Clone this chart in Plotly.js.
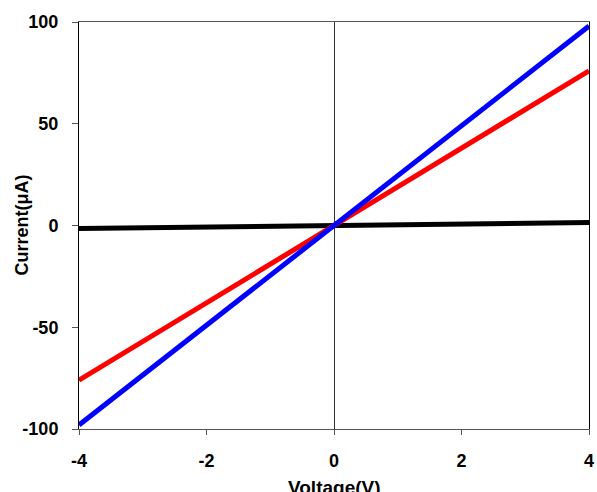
<!DOCTYPE html>
<html><head><meta charset="utf-8">
<script src="https://cdn.plot.ly/plotly-3.0.1.min.js"></script>
<style>html,body{margin:0;padding:0;background:#fff}#c{width:597px;height:492px}</style>
</head><body><div id="c"></div>
<script>
const voltage = [-4, -2, 0, 2, 4];
const currentBlack = [-1.5, -0.75, 0, 0.75, 1.5];
const currentRed = [-76, -38, 0, 38, 76];
const currentBlue = [-98, -49, 0, 49, 98];
const xTickVals = [-4, -2, 0, 2, 4];
const xTickText = ['-4', '-2', '0', '2', '4'];
const yTickVals = [-100, -50, 0, 50, 100];
const yTickText = ['-100', '-50', '0', '50', '100'];

const fam = 'Liberation Sans, Arial, sans-serif';
const traces = [
  {x: voltage, y: currentBlack, mode: 'lines', line: {color: '#000000', width: 5}},
  {x: voltage, y: currentRed, mode: 'lines', line: {color: '#ff0000', width: 5}},
  {x: voltage, y: currentBlue, mode: 'lines', line: {color: '#0000ff', width: 5}}
];
const layout = {
  width: 597, height: 492,
  margin: {l: 79, r: 8, t: 22, b: 63},
  showlegend: false,
  paper_bgcolor: '#fff', plot_bgcolor: '#fff',
  font: {family: fam, size: 18, color: '#000'},
  xaxis: {
    range: [-4, 4], tickvals: xTickVals, ticktext: xTickText.map(t => '<b>' + t + '</b>'),
    showgrid: false, zeroline: true, zerolinecolor: '#333', zerolinewidth: 1,
    showline: true, linecolor: '#555', linewidth: 1, mirror: true,
    ticks: 'outside', ticklen: 5, tickcolor: '#555', ticklabelstandoff: 10,
    tickfont: {family: fam, size: 18, color: '#000'}
  },
  yaxis: {
    range: [-100, 100], tickvals: yTickVals, ticktext: yTickText.map(t => '<b>' + t + '</b>'),
    showgrid: false, zeroline: false,
    showline: true, linecolor: '#000', linewidth: 1, mirror: true,
    ticks: 'outside', ticklen: 6, tickcolor: '#555', ticklabelstandoff: 10,
    tickfont: {family: fam, size: 18, color: '#000'}
  },
  annotations: [
    {text: '<b>Voltage(V)</b>', xref: 'paper', yref: 'paper', x: 0.5, y: 0, yshift: -58,
     xanchor: 'center', yanchor: 'middle', showarrow: false, font: {family: fam, size: 19, color: '#000'}},
    {text: '<b>Current(μA)</b>', xref: 'paper', yref: 'paper', x: 0, y: 0.5, xshift: -58,
     xanchor: 'center', yanchor: 'middle', textangle: -90, showarrow: false, font: {family: fam, size: 18, color: '#000'}}
  ]
};
Plotly.newPlot('c', traces, layout, {staticPlot: true, displayModeBar: false});
</script></body></html>
